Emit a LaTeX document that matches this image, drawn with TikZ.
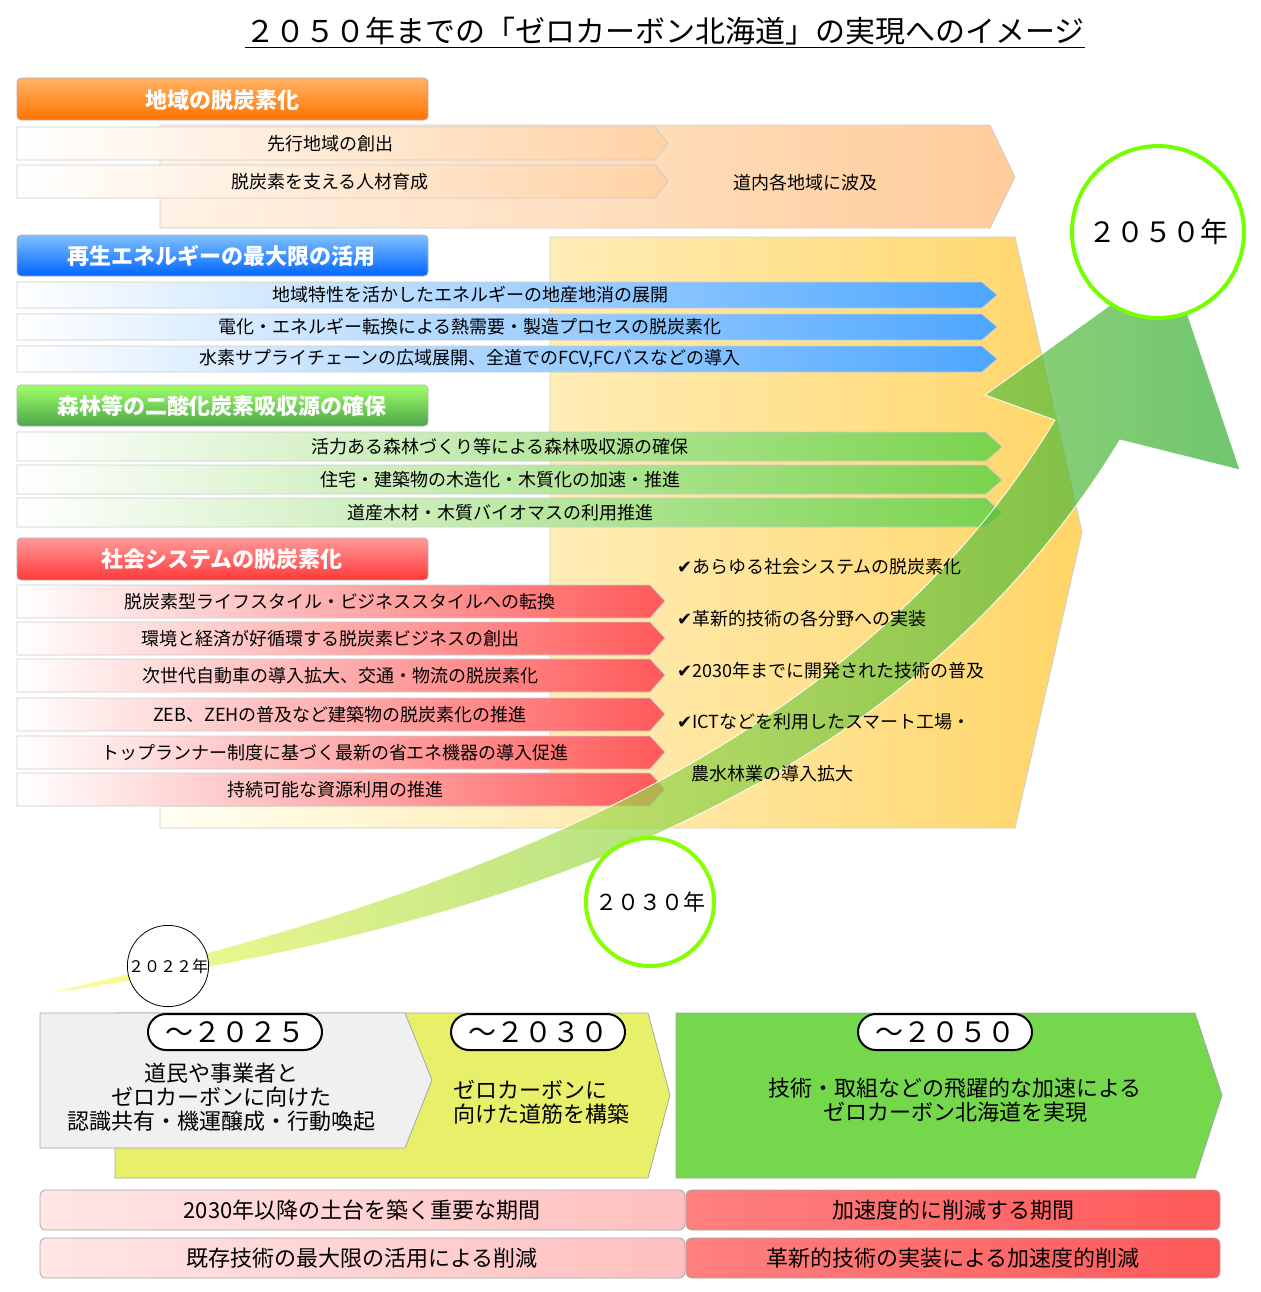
\documentclass[tikz,border=0pt]{standalone}
\usepackage{fontspec}
\setmainfont{Noto Sans CJK JP}
\newfontfamily\djv{DejaVu Sans}
\begin{document}
\begin{tikzpicture}[x=0.5pt,y=-0.5pt,
 hdr/.style={draw=gray!60,rounded corners=2pt,text=white,font=\fontsize{11}{12}\selectfont\bfseries},
 row/.style={draw=gray!40},
 rt/.style={font=\fontsize{9}{10}\selectfont},
 ck/.style={font=\fontsize{9}{10}\selectfont,anchor=west},
 pill/.style={draw=black,line width=1pt,fill=white,rounded corners=9pt,minimum width=87pt,minimum height=18pt,font=\fontsize{14}{14}\selectfont},
 bar/.style={draw=gray!70,rounded corners=3pt},
 bt/.style={font=\fontsize{11}{12}\selectfont}]
\useasboundingbox (0,0) rectangle (1260,1292);
\fill[white] (0,0) rectangle (1260,1292);
\node[font=\fontsize{15}{16}\selectfont] (title) at (665,33) {\underline{２０５０年までの「ゼロカーボン北海道」の実現へのイメージ}};
% orange
\shade[left color=orange!10,right color=orange!40,draw=gray!40] (160,125)--(990,125)--(1015,177)--(990,228)--(160,228)--cycle;
\node[rt] (oa) at (805,183) {道内各地域に波及};
\shade[hdr,top color=orange!60,bottom color=orange!90!red] (17,78) rectangle (428,120);
\node[hdr,draw=none] (oh) at (222,100) {地域の脱炭素化};
\foreach \y/\t in {127/先行地域の創出,165/脱炭素を支える人材育成}{
 \shade[row,left color=white,right color=orange!35] (17,\y)--(655,\y)--(668,\y+16)--(655,\y+33)--(17,\y+33)--cycle;
 \node[rt] at (330,\y+17) {\t};}
% yellow background
\shade[left color=yellow!5,right color=yellow!45!orange!60,draw=gray!40] (550,237)--(1015,237)--(1082,532)--(1015,828)--(160,828)--(160,806)--(550,806)--cycle;
% blue
\shade[hdr,top color=cyan!50!blue!50,bottom color=blue!60!cyan] (17,235) rectangle (428,276);
\node[hdr,draw=none] (bh) at (222,256) {再生エネルギーの最大限の活用};
\foreach \y/\t in {282/地域特性を活かしたエネルギーの地産地消の展開,314/電化・エネルギー転換による熱需要・製造プロセスの脱炭素化,346/水素サプライチェーンの広域展開、全道でのFCV{,}FCバスなどの導入}{
 \shade[row,left color=white,right color=cyan!50!blue!70] (17,\y)--(982,\y)--(997,\y+13)--(982,\y+26)--(17,\y+26)--cycle;
 \node[rt] at (470,\y+13) {\t};}
% green
\shade[hdr,top color=green!50!lime!60,bottom color=green!50!black!70] (17,385) rectangle (428,426);
\node[hdr,draw=none] (gh) at (222,406) {森林等の二酸化炭素吸収源の確保};
\foreach \y/\t in {432/活力ある森林づくり等による森林吸収源の確保,465/住宅・建築物の木造化・木質化の加速・推進,498/道産木材・木質バイオマスの利用推進}{
 \shade[row,left color=white,right color=green!50!olive!70] (17,\y)--(986,\y)--(1002,\y+15)--(986,\y+29)--(17,\y+29)--cycle;
 \node[rt] at (500,\y+15) {\t};}
% red
\shade[hdr,top color=red!40,bottom color=red!70!pink] (17,538) rectangle (428,580);
\node[hdr,draw=none] (rh) at (222,559) {社会システムの脱炭素化};
\foreach \y/\t/\x in {585/脱炭素型ライフスタイル・ビジネススタイルへの転換/340,622/環境と経済が好循環する脱炭素ビジネスの創出/330,659/次世代自動車の導入拡大、交通・物流の脱炭素化/340,698/ZEB、ZEHの普及など建築物の脱炭素化の推進/340,736/トップランナー制度に基づく最新の省エネ機器の導入促進/335,773/持続可能な資源利用の推進/335}{
 \shade[row,left color=white,right color=red!65] (17,\y)--(650,\y)--(665,\y+16)--(650,\y+33)--(17,\y+33)--cycle;
 \node[rt] at (\x,\y+17) {\t};}
% big arrow
\shade[left color=yellow!60!white,right color=green!60!black!80,fill opacity=0.7,draw=white]
 (38,995) .. controls (500,930) and (900,800) .. (1120,440) -- (1240,470) -- (1170,262) -- (985,395) -- (1055,420) .. controls (850,760) and (450,900) .. (38,995) -- cycle;
\node[ck] (c1) at (670,567) {{\djv ✔}あらゆる社会システムの脱炭素化};
\node[ck] (c2) at (670,619) {{\djv ✔}革新的技術の各分野への実装};
\node[ck] (c3) at (670,671) {{\djv ✔}2030年までに開発された技術の普及};
\node[ck] (c4) at (670,722) {{\djv ✔}ICTなどを利用したスマート工場・};
\node[ck] (c5) at (684,774) {農水林業の導入拡大};
% circles
\node[circle,draw=black,fill=white,minimum size=40pt,inner sep=0pt,font=\fontsize{8}{8}\selectfont] (y22) at (168,966) {２０２２年};
\node[circle,draw=lime!70!green,line width=2pt,fill=white,minimum size=64pt,inner sep=0pt,font=\fontsize{11}{11}\selectfont] (y30) at (650,902) {２０３０年};
\node[circle,draw=lime!60!green,line width=2pt,fill=white,minimum size=86pt,inner sep=0pt,font=\fontsize{14}{14}\selectfont] (y50) at (1158,232) {２０５０年};
% bottom chevrons
\fill[yellow!40!lime!60,draw=gray!70] (115,1013)--(648,1013)--(670,1095)--(648,1178)--(115,1178)--cycle;
\fill[gray!12,draw=gray!70] (40,1013)--(405,1013)--(432,1080)--(405,1148)--(40,1148)--cycle;
\fill[green!55!olive!70,draw=gray!70] (676,1013)--(1195,1013)--(1222,1095)--(1195,1178)--(676,1178)--cycle;
\node[pill] (p1) at (235,1032) {～２０２５};
\node[pill] (p2) at (538,1032) {～２０３０};
\node[pill] (p3) at (945,1032) {～２０５０};
\node[bt,align=center] (t1) at (222,1097) {道民や事業者と\\ゼロカーボンに向けた\\認識共有・機運醸成・行動喚起};
\node[bt,align=left] (t2) at (541,1102) {ゼロカーボンに\\向けた道筋を構築};
\node[bt,align=center] (t3) at (955,1100) {技術・取組などの飛躍的な加速による\\ゼロカーボン北海道を実現};
% bottom bars
\shade[bar,left color=red!10,right color=red!25] (40,1190) rectangle (685,1230);
\shade[bar,left color=red!10,right color=red!25] (40,1238) rectangle (685,1278);
\shade[bar,left color=red!50,right color=red!65] (686,1190) rectangle (1220,1230);
\shade[bar,left color=red!50,right color=red!65] (686,1238) rectangle (1220,1278);
\node[bt] (b1) at (362,1210) {2030年以降の土台を築く重要な期間};
\node[bt] (b2) at (362,1258) {既存技術の最大限の活用による削減};
\node[bt] (b3) at (953,1210) {加速度的に削減する期間};
\node[bt] (b4) at (953,1258) {革新的技術の実装による加速度的削減};
\end{tikzpicture}
\end{document}
